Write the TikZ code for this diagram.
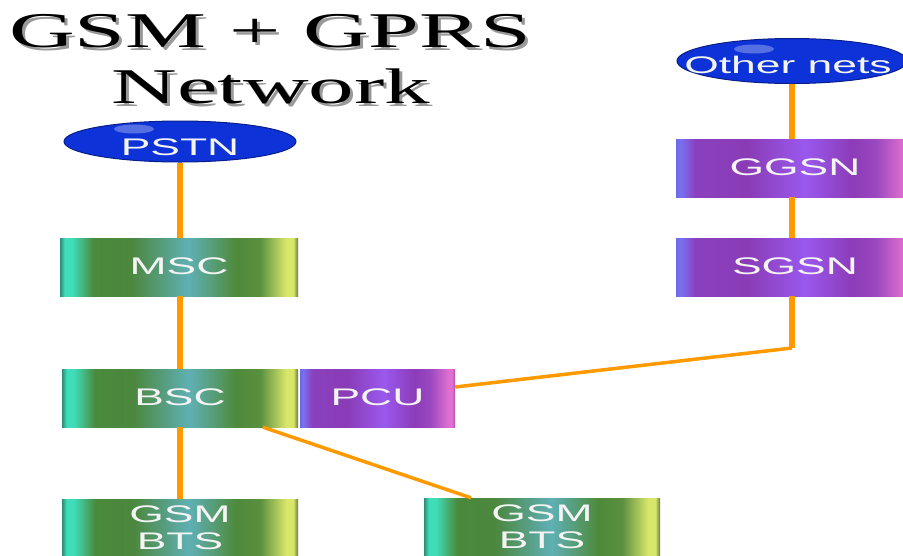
\documentclass[tikz,border=0pt]{standalone}
\usepackage{fontspec}
\usepackage{graphicx}
\setmainfont{Liberation Serif}
\newfontfamily\boxfont{Liberation Sans}
\usetikzlibrary{shapes.geometric,calc}

\definecolor{gEdge}{HTML}{2E8C78}
\definecolor{gCyan}{HTML}{3FDDB9}
\definecolor{gDarkA}{HTML}{4A8A3C}
\definecolor{gDarkB}{HTML}{4C873E}
\definecolor{gTeal}{HTML}{5FB0B4}
\definecolor{gDarkC}{HTML}{4E8A3A}
\definecolor{gDarkD}{HTML}{5A9040}
\definecolor{gYel}{HTML}{D8E66A}
\definecolor{gEnd}{HTML}{6A7A3A}

\definecolor{pEdge}{HTML}{6A6AE8}
\definecolor{pBlue}{HTML}{7A70F0}
\definecolor{pPA}{HTML}{8A40BE}
\definecolor{pPB}{HTML}{8A3CB6}
\definecolor{pLight}{HTML}{9A58EE}
\definecolor{pPC}{HTML}{8C3CB8}
\definecolor{pPD}{HTML}{9A48C0}
\definecolor{pPink}{HTML}{E070D0}
\definecolor{pEnd}{HTML}{B050B0}

\definecolor{netBlue}{HTML}{0D33D8}
\definecolor{netEdge}{HTML}{0A1E8A}
\definecolor{linkOrange}{HTML}{FF9900}
\definecolor{labelWhite}{HTML}{F4F4F4}

\pgfdeclarehorizontalshading{greenbox}{100bp}{%
  color(0bp)=(gEdge); color(25bp)=(gEdge); color(26bp)=(gCyan);
  color(27.5bp)=(gCyan); color(32bp)=(gDarkA); color(40bp)=(gDarkB);
  color(52bp)=(gTeal); color(62bp)=(gDarkC); color(67bp)=(gDarkD);
  color(72.5bp)=(gYel); color(74bp)=(gYel); color(75bp)=(gEnd); color(100bp)=(gEnd)}

\pgfdeclarehorizontalshading{purplebox}{100bp}{%
  color(0bp)=(pEdge); color(25bp)=(pEdge); color(26bp)=(pBlue);
  color(29bp)=(pPA); color(40bp)=(pPB);
  color(52bp)=(pLight); color(62bp)=(pPC); color(67bp)=(pPD);
  color(73bp)=(pPink); color(74bp)=(pPink); color(75bp)=(pEnd); color(100bp)=(pEnd)}

\newcommand{\wide}[1]{\scalebox{1.85}[1]{#1}}
\newcommand{\boxlabel}[1]{\raisebox{2pt}{\wide{#1}}}

\begin{document}
\begin{tikzpicture}[x=1pt,y=-1pt,
  boxbase/.style={shade, minimum height=58pt, inner sep=0pt, text=labelWhite,
    font=\boxfont\fontsize{24}{27}\selectfont, align=center},
  greennode/.style={boxbase, shading=greenbox},
  purplenode/.style={boxbase, shading=purplebox},
  cloudnode/.style={ellipse, fill=netBlue, draw=netEdge, line width=1pt,
    inner sep=0pt},
  cloudtext/.style={text=labelWhite, font=\boxfont\fontsize{24}{27}\selectfont, inner sep=0pt},
  gleam/.style={ellipse, fill=white, fill opacity=0.3, draw=none, inner sep=0pt},
  link/.style={draw=linkOrange, line width=5.5pt},
  thinlink/.style={draw=linkOrange, line width=3.5pt},
  titletext/.style={font=\fontsize{50}{56}\selectfont, xscale=1.82, anchor=base},
]
\useasboundingbox (0,0) rectangle (903,555);
\clip (0,0) rectangle (903,555);

% title with shadow
\node[titletext, text=black!40] (t1s) at (273,50) {GSM + GPRS};
\node[titletext, text=black] (t1) at (270,47) {GSM + GPRS};
\node[titletext, text=black!40] (t2s) at (274,106) {Network};
\node[titletext, text=black] (t2) at (271,103) {Network};

\coordinate (pstnpos) at (180,141.5);
\coordinate (otherpos) at (792,61);

% boxes
\node[greennode, minimum width=238pt] (msc) at (179,267) {\boxlabel{MSC}};
\node[greennode, minimum width=236pt] (bsc) at (180,398) {\boxlabel{BSC}};
\node[purplenode, minimum width=155pt] (pcu) at (377.5,398) {\boxlabel{PCU}};
\node[purplenode, minimum width=238pt] (ggsn) at (795,168) {\boxlabel{GGSN}};
\node[purplenode, minimum width=238pt] (sgsn) at (795,267) {\boxlabel{SGSN}};
\node[greennode, minimum width=236pt] (bts1) at (180,528) {\wide{GSM}\\\wide{BTS}};
\node[greennode, minimum width=236pt] (bts2) at (542,527) {\wide{GSM}\\\wide{BTS}};

% clouds
\node[cloudnode, minimum width=232pt, minimum height=41pt] (pstn) at (pstnpos) {};
\node[gleam, minimum width=40pt, minimum height=9pt] (pstngleam) at (134,129) {};
\node[cloudtext] (pstnlabel) at (180,147) {\wide{PSTN}};
\node[cloudnode, minimum width=230pt, minimum height=45pt] (other) at (otherpos) {};
\node[gleam, minimum width=40pt, minimum height=9pt] (othergleam) at (754,49) {};
\node[cloudtext] (otherlabel) at (788,65) {\wide{Other nets}};

% connectors
\draw[link] (pstn.south) -- (pstn.south |- msc.north);
\draw[link] (msc.south) ++(1,0) coordinate (pb) -- (pb |- bsc.north);
\draw[link] (bsc.south) -- (bts1.north);
\draw[thinlink] ([xshift=83pt]bsc.south) -- ([xshift=-71pt]bts2.north);
\coordinate (bend) at (792,348);
\draw[thinlink] ([yshift=11pt]pcu.east) -- (bend);
\draw[link] (bend) -- (bend |- sgsn.south);
\draw[link] (other.south) -- (other.south |- ggsn.north);
\draw[link] (ggsn.south -| other.south) -- (sgsn.north -| other.south);
\end{tikzpicture}
\end{document}
